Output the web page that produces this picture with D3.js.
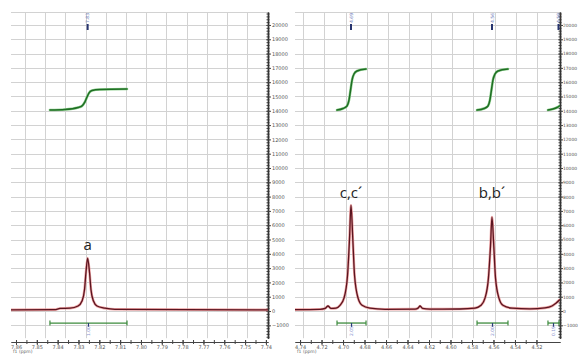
<!DOCTYPE html>
<html>
<head>
<meta charset="utf-8">
<script src="https://cdn.jsdelivr.net/npm/d3@7"></script>
<style>
  body { margin: 0; background: #fff; }
  svg { display: block; }
</style>
</head>
<body>
<svg id="chart" width="579" height="358"></svg>
<script>
// ---- data: [ppm, intensity] ----
const leftSpectrum = [
  [7.8624, 80], [7.8413, 100], [7.8389, 180], [7.8341, 200], [7.8302, 350],
  [7.8283, 700], [7.8271, 1500], [7.8264, 2700], [7.8256, 3700], [7.8247, 2700],
  [7.8240, 1500], [7.8228, 700], [7.8211, 350], [7.8173, 200], [7.8125, 120],
  [7.7390, 80]
];
const rightSpectrum = [
  [4.7447, 100], [4.7214, 120], [4.7167, 180], [4.7140, 350], [4.7112, 180],
  [4.7065, 200], [4.7028, 400], [4.6991, 900], [4.6958, 2500], [4.6940, 5000],
  [4.6926, 7400], [4.6909, 5000], [4.6893, 2500], [4.6860, 900], [4.6823, 400],
  [4.6749, 200], [4.6609, 120], [4.6330, 130], [4.6302, 200], [4.6284, 350],
  [4.6260, 180], [4.6191, 130], [4.5912, 140], [4.5772, 200], [4.5716, 400],
  [4.5679, 900], [4.5647, 2300], [4.5628, 4500], [4.5614, 6570], [4.5597, 4500],
  [4.5581, 2300], [4.5549, 900], [4.5512, 400], [4.5428, 200], [4.5260, 150],
  [4.5121, 220], [4.5056, 350], [4.5019, 550], [4.4981, 800]
];

// integral curves (drawn on the same intensity axis)
const leftIntegral = [
  [7.8437, 14050], [7.8365, 14090], [7.8302, 14230], [7.8283, 14340], [7.8269, 14620],
  [7.8259, 14960], [7.8250, 15240], [7.8235, 15420], [7.8197, 15490], [7.8067, 15520]
];
const rightIntegral1 = [
  [4.7056, 14050], [4.7000, 14160], [4.6963, 14340], [4.6944, 14760], [4.6930, 15450],
  [4.6916, 16150], [4.6898, 16570], [4.6870, 16780], [4.6786, 16920]
];
const rightIntegral2 = [
  [4.5753, 14050], [4.5688, 14160], [4.5651, 14340], [4.5633, 14760], [4.5619, 15450],
  [4.5605, 16150], [4.5586, 16570], [4.5558, 16780], [4.5465, 16920]
];
const rightIntegral3 = [
  [4.5093, 14050], [4.5047, 14120], [4.5009, 14230], [4.4981, 14370]
];

// integral ranges under the baseline: [from, to, value text]
const leftBars = [[7.8437, 7.8067, "1.00"]];
const rightBars = [[4.7056, 4.6786, "2.05"], [4.5753, 4.5465, "2.00"], [4.5093, 4.4990, "0.19"]];
const barLevel = -840;

// peak picks at the top
const leftPicks = [[7.8256, "7.83"]];
const rightPicks = [[4.6926, "4.69"], [4.5614, "4.56"], [4.4995, "4.50"]];

// assignments
const leftNotes = [[7.8256, 4300, "a"]];
const rightNotes = [[4.6926, 7900, "c,c\u00b4"], [4.5614, 7900, "b,b\u00b4"]];

// ticks and grid
const leftXTicks = [7.86, 7.85, 7.84, 7.83, 7.82, 7.81, 7.80, 7.79, 7.78, 7.77, 7.76, 7.75, 7.74];
const rightXTicks = [4.74, 4.72, 4.70, 4.68, 4.66, 4.64, 4.62, 4.60, 4.58, 4.56, 4.54, 4.52];
const leftGrid = [7.8557, 7.8460, 7.8363, 7.8266, 7.8169, 7.8072, 7.7975, 7.7878, 7.7781, 7.7684, 7.7587, 7.7490];
const rightGrid = [4.7372, 4.7174, 4.6976, 4.6778, 4.6580, 4.6382, 4.6184, 4.5986, 4.5788, 4.5590, 4.5392, 4.5194];
const yTicks = [-1000, 0, 1000, 2000, 3000, 4000, 5000, 6000, 7000, 8000, 9000, 10000,
  11000, 12000, 13000, 14000, 15000, 16000, 17000, 18000, 19000, 20000];

const svg = d3.select("#chart");
svg.append("rect").attr("width", 579).attr("height", 358).attr("fill", "#fff");

// shared intensity scale
const y = d3.scaleLinear().domain([-1900, 20900]).range([338.2, 12.1]);
const yTop = 20900, yBottom = -1900;

const panels = [
  { left: 11, right: 268, domain: [7.8624, 7.7390], ticks: leftXTicks, minorStep: 0.005,
    grid: leftGrid, spectrum: leftSpectrum, integrals: [leftIntegral], bars: leftBars,
    picks: leftPicks, notes: leftNotes, yFont: 5, yPad: 4 },
  { left: 295, right: 560, domain: [4.7447, 4.4981], ticks: rightXTicks, minorStep: 0.01,
    grid: rightGrid, spectrum: rightSpectrum, integrals: [rightIntegral1, rightIntegral2, rightIntegral3],
    bars: rightBars, picks: rightPicks, notes: rightNotes, yFont: 4.4, yPad: 3 }
];

panels.forEach((p, i) => {
  const x = d3.scaleLinear().domain(p.domain).range([p.left, p.right]);
  const g = svg.append("g");

  const clipId = "clip" + i;
  svg.append("clipPath").attr("id", clipId)
    .append("rect")
    .attr("x", p.left).attr("y", y(yTop))
    .attr("width", p.right - p.left).attr("height", y(yBottom) - y(yTop));

  // grid
  const grid = g.append("g").attr("stroke", "#d2d2d2").attr("stroke-width", 1);
  grid.selectAll("line.h")
    .data(yTicks.concat([yTop]))
    .enter().append("line")
    .attr("x1", p.left).attr("x2", p.right)
    .attr("y1", d => Math.round(y(d)) + 0.5).attr("y2", d => Math.round(y(d)) + 0.5);
  grid.selectAll("line.v")
    .data(p.grid)
    .enter().append("line")
    .attr("x1", d => Math.round(x(d)) + 0.5).attr("x2", d => Math.round(x(d)) + 0.5)
    .attr("y1", y(yTop)).attr("y2", y(yBottom));

  // x axis
  const xAxisY = 342;
  const minor = d3.range(d3.min(p.ticks), d3.max(p.ticks) + 1e-9, p.minorStep);
  const xAxis = g.append("g").attr("transform", "translate(0," + xAxisY + ")");
  xAxis.call(d3.axisBottom(x).tickValues(minor).tickSize(2).tickSizeOuter(0).tickFormat(""));
  xAxis.append("g").call(d3.axisBottom(x).tickValues(p.ticks).tickSize(3).tickSizeOuter(0).tickFormat(d3.format(".2f")));
  xAxis.selectAll(".domain").attr("stroke", "#444").attr("stroke-width", 1.2);
  xAxis.selectAll(".tick line").attr("stroke", "#444").attr("y1", -2);
  xAxis.selectAll(".tick text")
    .attr("y", 5).attr("dy", "0.35em")
    .attr("fill", "#555").attr("font-size", 5).attr("font-family", "DejaVu Sans");
  g.append("text")
    .attr("x", p.left + 2).attr("y", 353)
    .attr("fill", "#666").attr("font-size", 4.5).attr("font-family", "DejaVu Sans")
    .text("f1 (ppm)");

  // y axis on the right
  const yAxis = g.append("g").attr("transform", "translate(" + p.right + ",0)");
  const yMinor = d3.range(-1800, 20900, 200);
  yAxis.call(d3.axisRight(y).tickValues(yMinor).tickSize(1.5).tickSizeOuter(0).tickFormat(""));
  yAxis.append("g").call(d3.axisRight(y).tickValues(yTicks).tickSize(3).tickSizeOuter(0).tickFormat(d3.format("d")));
  yAxis.selectAll(".domain").attr("stroke", "#333").attr("stroke-width", 1.4);
  yAxis.selectAll(".tick line").attr("stroke", "#444").attr("x1", -1.5);
  yAxis.selectAll(".tick text")
    .attr("x", p.yPad).attr("fill", "#555").attr("font-size", p.yFont).attr("font-family", "DejaVu Sans");

  const plot = g.append("g").attr("clip-path", "url(#" + clipId + ")");

  // integral curves
  const iLine = d3.line().x(d => x(d[0])).y(d => y(d[1])).curve(d3.curveMonotoneX);
  p.integrals.forEach(series => {
    plot.append("path").attr("d", iLine(series))
      .attr("fill", "none").attr("stroke", "#8fcf8f").attr("stroke-width", 2.6).attr("stroke-linecap", "round");
    plot.append("path").attr("d", iLine(series))
      .attr("fill", "none").attr("stroke", "#1f6e24").attr("stroke-width", 1.5).attr("stroke-linecap", "round");
  });

  // spectrum
  const sLine = d3.line().x(d => x(d[0])).y(d => y(d[1])).curve(d3.curveMonotoneX);
  plot.append("path").attr("d", sLine(p.spectrum))
    .attr("fill", "none").attr("stroke", "#e88a8a").attr("stroke-width", 2.6).attr("opacity", 0.8);
  plot.append("path").attr("d", sLine(p.spectrum))
    .attr("fill", "none").attr("stroke", "#5a1520").attr("stroke-width", 1.3);

  // integral bars
  const bars = g.selectAll("g.bar").data(p.bars).enter().append("g");
  const barMid = d => (x(d[0]) + Math.min(x(d[1]), p.right)) / 2;
  bars.append("line")
    .attr("x1", d => x(d[0])).attr("x2", d => Math.min(x(d[1]), p.right))
    .attr("y1", y(barLevel)).attr("y2", y(barLevel))
    .attr("stroke", "#3d8b3d").attr("stroke-width", 1.3);
  bars.append("line")
    .attr("x1", d => x(d[0])).attr("x2", d => x(d[0]))
    .attr("y1", y(barLevel) - 2.5).attr("y2", y(barLevel) + 2.5)
    .attr("stroke", "#3d8b3d").attr("stroke-width", 1.2);
  bars.append("line")
    .attr("x1", d => Math.min(x(d[1]), p.right - 1)).attr("x2", d => Math.min(x(d[1]), p.right - 1))
    .attr("y1", y(barLevel) - 2.5).attr("y2", y(barLevel) + 2.5)
    .attr("stroke", "#3d8b3d").attr("stroke-width", 1.2);
  bars.append("line")
    .attr("x1", barMid).attr("x2", barMid)
    .attr("y1", y(barLevel)).attr("y2", y(barLevel) + 4)
    .attr("stroke", "#2a3a7a").attr("stroke-width", 1.2);
  bars.append("text")
    .attr("transform", d => "translate(" + (barMid(d) + 1.6) + "," + (y(barLevel) + 13) + ") rotate(-90)")
    .attr("fill", "#8d95cf").attr("font-size", 4.5).attr("font-family", "DejaVu Sans")
    .text(d => d[2]);

  // peak picks at the top
  const picks = g.selectAll("g.pick").data(p.picks).enter().append("g");
  picks.append("text")
    .attr("transform", d => "translate(" + (x(d[0]) + 1.6) + "," + 23 + ") rotate(-90)")
    .attr("fill", "#6a76b8").attr("font-size", 4.5).attr("font-family", "DejaVu Sans")
    .text(d => d[1]);
  picks.append("line")
    .attr("x1", d => x(d[0])).attr("x2", d => x(d[0]))
    .attr("y1", 24).attr("y2", 30)
    .attr("stroke", "#27346e").attr("stroke-width", 2);

  // assignment labels
  g.selectAll("text.note").data(p.notes).enter().append("text")
    .attr("x", d => x(d[0])).attr("y", d => y(d[1]))
    .attr("text-anchor", "middle")
    .attr("fill", "#222").attr("font-size", 15).attr("font-family", "Open Sans")
    .text(d => d[2]);
});
</script>
</body>
</html>
